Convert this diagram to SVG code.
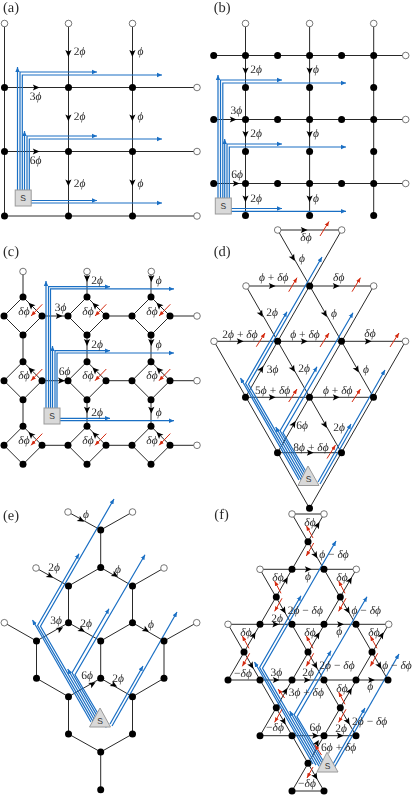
<svg xmlns="http://www.w3.org/2000/svg" width="415" height="796" viewBox="0 0 415 796">
<style>
text{font-family:"Liberation Serif","Times New Roman",serif;font-size:11.5px;fill:#2a2a2a;text-anchor:middle;text-rendering:geometricPrecision}
.p{font-size:14.5px;text-anchor:start}
.i{font-style:italic}
.sl{font-family:"Liberation Sans",Arial,sans-serif;font-size:8.5px;fill:#333}
.k{fill:#000;r:3.5px}
.o{fill:#fff;stroke:#555;stroke-width:.8;r:3.3px}
.e{fill:none;stroke:#111;stroke-width:.9}
.b{fill:none;stroke:#1a6fc4;stroke-width:1.2;marker-end:url(#mb)}
.r{fill:none;stroke:#d42a10;stroke-width:1;marker-end:url(#mr)}
.s{fill:#d9d9d9;stroke:#9a9a9a;stroke-width:1}
#labels{filter:url(#gray)}
</style>
<defs>
<filter id="gray" filterUnits="userSpaceOnUse" x="0" y="0" width="415" height="796" color-interpolation-filters="sRGB"><feOffset dx="0" dy="0"/></filter>
<marker id="mb" markerUnits="userSpaceOnUse" markerWidth="7" markerHeight="6" viewBox="0 -3 7 6" refX="5" refY="0" orient="auto"><path d="M0,-2.2L5,0L0,2.2z" fill="#1a6fc4"/></marker>
<marker id="mr" markerUnits="userSpaceOnUse" markerWidth="7" markerHeight="6" viewBox="0 -3 7 6" refX="5" refY="0" orient="auto"><path d="M0,-2L5,0L0,2z" fill="#d42a10"/></marker>
<path id="ah" d="M3.6,0L-3.2,-3.1L-1.7,0L-3.2,3.1z" fill="#000"/>
<g id="bt">
<path class="b" d="M299,480L240.5,378"/>
<path class="b" d="M302,481.1L245.6,383.5L287,311.7"/>
<path class="b" d="M305.1,482.2L248.5,384.3L322,257"/>
<path class="b" d="M308.1,483.3L275.7,427"/>
<path class="b" d="M311.2,484.4L280.1,430.7L317,366.7"/>
<path class="b" d="M314.2,485.5L283,432.8L353,312.7"/>
<path class="b" d="M318,482L351,424"/>
<path class="b" d="M320,484L385,370"/>
</g>
</defs>
<rect width="415" height="796" fill="#fff"/>
<g id="connectors">
<g id="conn-a">
<path class="e" d="M4.5,23.5V216M68.5,23.5V216M132.5,23.5V216M4.5,87.5H197M4.5,151.5H197M4.5,216H197"/>
<path class="b" d="M17.5,190V67"/>
<path class="b" d="M20,190V72H97"/>
<path class="b" d="M22.3,190V75H162"/>
<path class="b" d="M24.5,190V131"/>
<path class="b" d="M27,190V136H97"/>
<path class="b" d="M29.3,190V139H162"/>
<path class="b" d="M31,200.5H97"/>
<path class="b" d="M31,203H162"/>
<use href="#ah" transform="translate(68.4,53.3) rotate(90)"/><use href="#ah" transform="translate(132.4,53.3) rotate(90)"/>
<use href="#ah" transform="translate(68.4,117.7) rotate(90)"/><use href="#ah" transform="translate(132.4,117.7) rotate(90)"/>
<use href="#ah" transform="translate(68.4,182.7) rotate(90)"/><use href="#ah" transform="translate(132.4,182.7) rotate(90)"/>
<use href="#ah" transform="translate(36,87.5)"/><use href="#ah" transform="translate(36,151.5)"/>
</g>
<g id="conn-b">
<path class="e" d="M245.5,23.5V215.5M309.6,23.5V215.5M373.7,23.5V215.5M213.7,55.5H405.7M213.7,119.5H405.7M213.7,183.5H405.7"/>
<path class="b" d="M218,198V75"/>
<path class="b" d="M220.5,198V80H282"/>
<path class="b" d="M222.8,198V83H346"/>
<path class="b" d="M224.7,198V139"/>
<path class="b" d="M227,198V144H282"/>
<path class="b" d="M229.3,198V147H346"/>
<path class="b" d="M231,208.5H282"/>
<path class="b" d="M231,211.3H346"/>
<use href="#ah" transform="translate(245.5,70.7) rotate(90)"/><use href="#ah" transform="translate(309.6,70.7) rotate(90)"/>
<use href="#ah" transform="translate(245.5,134.3) rotate(90)"/><use href="#ah" transform="translate(309.6,134.3) rotate(90)"/>
<use href="#ah" transform="translate(245.5,198.7) rotate(90)"/><use href="#ah" transform="translate(309.6,198.7) rotate(90)"/>
<use href="#ah" transform="translate(233,119.5)"/><use href="#ah" transform="translate(236,183.5)"/>
</g>
<g id="conn-c">
<path class="e" d="M4,316L23,297L42,316L23,335zM68,316L87,297L106,316L87,335zM132,316L151,297L170,316L151,335zM4,380.7L23,361.7L42,380.7L23,399.7zM68,380.7L87,361.7L106,380.7L87,399.7zM132,380.7L151,361.7L170,380.7L151,399.7zM4,445.3L23,426.3L42,445.3L23,464.3zM68,445.3L87,426.3L106,445.3L87,464.3zM132,445.3L151,426.3L170,445.3L151,464.3z"/>
<path class="e" d="M23,271.5V297M87,271.5V297M151,271.5V297M23,335V361.7M87,335V361.7M151,335V361.7M23,399.7V426.3M87,399.7V426.3M151,399.7V426.3M42,316H68M106,316H132M170,316H197M42,380.7H68M106,380.7H132M170,380.7H197M42,445.3H68M106,445.3H132M170,445.3H197"/>
<path class="b" d="M46,408V281"/>
<path class="b" d="M48.5,408V286.7H110"/>
<path class="b" d="M50.5,408V288.9H174"/>
<path class="b" d="M52.5,408V346"/>
<path class="b" d="M55,408V350.7H110"/>
<path class="b" d="M57,408V353H174"/>
<path class="b" d="M60,418.3H110"/>
<path class="b" d="M60,420.7H174"/>
<use href="#ah" transform="translate(87,278.3) rotate(90)"/><use href="#ah" transform="translate(151.3,278.3) rotate(90)"/>
<use href="#ah" transform="translate(87,342.3) rotate(90)"/><use href="#ah" transform="translate(151.3,342.3) rotate(90)"/>
<use href="#ah" transform="translate(87,410) rotate(90)"/><use href="#ah" transform="translate(151.3,410) rotate(90)"/>
<use href="#ah" transform="translate(59,316)"/><use href="#ah" transform="translate(61.3,380.7)"/>
<use href="#ah" transform="translate(31,305.3) rotate(-135)"/><use href="#ah" transform="translate(95,305.3) rotate(-135)"/><use href="#ah" transform="translate(159,305.3) rotate(-135)"/>
<use href="#ah" transform="translate(31,370) rotate(-135)"/><use href="#ah" transform="translate(95,370) rotate(-135)"/><use href="#ah" transform="translate(159,370) rotate(-135)"/>
<use href="#ah" transform="translate(31,434.6) rotate(-135)"/><use href="#ah" transform="translate(95,434.6) rotate(-135)"/><use href="#ah" transform="translate(159,434.6) rotate(-135)"/>
<path class="r" d="M42.3,304.3L31,316"/><path class="r" d="M106.3,304.3L95,316"/><path class="r" d="M170.3,304.3L159,316"/>
<path class="r" d="M42.3,369L31,380.7"/><path class="r" d="M106.3,369L95,380.7"/><path class="r" d="M170.3,369L159,380.7"/>
<path class="r" d="M42.3,433.6L31,445.3"/><path class="r" d="M106.3,433.6L95,445.3"/><path class="r" d="M170.3,433.6L159,445.3"/>
</g>
<g id="conn-d">
<path class="e" d="M277.7,230H341.7M246,286H373.7M214,341.3H405.5M245.5,397.3H373.5M277.5,452.7H341.5"/>
<path class="e" d="M277.7,230L373.5,397.3M341.7,230L245.5,397.3M405.5,341.3L309.5,508.3M214,341.3L309.5,508.3M246,286L341.5,452.7M373.7,286L277.5,452.7"/>
<use href="#bt"/>
<use href="#ah" transform="translate(304,230)"/><use href="#ah" transform="translate(272,286)"/><use href="#ah" transform="translate(336,286)"/>
<use href="#ah" transform="translate(240,341.3)"/><use href="#ah" transform="translate(304,341.3)"/><use href="#ah" transform="translate(368,341.3)"/>
<use href="#ah" transform="translate(272,397.3)"/><use href="#ah" transform="translate(336,397.3)"/><use href="#ah" transform="translate(310,452.7)"/>
<use href="#ah" transform="translate(293,258) rotate(60)"/><use href="#ah" transform="translate(261,314) rotate(60)"/><use href="#ah" transform="translate(325,314) rotate(60)"/>
<use href="#ah" transform="translate(261.5,369) rotate(-60)"/><use href="#ah" transform="translate(293,369) rotate(60)"/><use href="#ah" transform="translate(357,369.5) rotate(60)"/>
<use href="#ah" transform="translate(293.7,424) rotate(-60)"/><use href="#ah" transform="translate(325,425) rotate(60)"/>
<path class="r" d="M320,236L329,221.5"/><path class="r" d="M288.7,291.7L297,277.7"/><path class="r" d="M352,291.7L360.5,277.7"/>
<path class="r" d="M256.3,346.7L265,333"/><path class="r" d="M320,347L329,333"/><path class="r" d="M390,347L399,333"/>
<path class="r" d="M288.7,402L297,389"/><path class="r" d="M352,402L360.5,389"/><path class="r" d="M327,458.5L335.5,445"/>
</g>
<g id="conn-e">
<path class="e" d="M68,512L100.7,530L132.5,512M100.7,530V567.5M36,568L68.5,586L100.7,567.5L132.5,586L164,568M68.5,586V622.7M132.5,586V622.7M4.3,622.7L36.5,641L68.5,622.7L100.7,641L132.5,622.7L164,641L196.7,622.7M36.5,641V678.3M100.7,641V678.3M164,641V678.3M36.5,678.3L68.5,696.7L100.7,678.3L132.5,696.7L164,678.3M68.5,696.7V734M132.5,696.7V734M68.5,734L100.7,752L132.5,734M100.7,752V789.7"/>
<use href="#bt" transform="translate(-208,242)"/>
<use href="#ah" transform="translate(81,520) rotate(30)"/><use href="#ah" transform="translate(50,576) rotate(30)"/><use href="#ah" transform="translate(115,575) rotate(30)"/>
<use href="#ah" transform="translate(60,629) rotate(-30)"/><use href="#ah" transform="translate(81.7,630) rotate(30)"/><use href="#ah" transform="translate(146,630) rotate(30)"/>
<use href="#ah" transform="translate(92.5,684) rotate(-30)"/><use href="#ah" transform="translate(114,685) rotate(30)"/>
</g>
<g id="conn-f">
<path class="e" d="M292,514H324M260,569.3H356.3M228,624.3H388.7M228,680H388M260,735.7H356M292,791H324"/>
<path class="e" d="M292,514L388,680M324,514L228,680M260,569.3L356,735.7M356.3,569.3L260,735.7M228,624.3L324,791M388.7,624.3L292,791"/>
<use href="#bt" transform="translate(14,284)"/>
<use href="#ah" transform="translate(308,569.3)"/><use href="#ah" transform="translate(275.5,624.3)"/><use href="#ah" transform="translate(340.3,624.3)"/>
<use href="#ah" transform="translate(276,680)"/><use href="#ah" transform="translate(307,680)"/><use href="#ah" transform="translate(371.3,680)"/>
<use href="#ah" transform="translate(315.3,735.7)"/><use href="#ah" transform="translate(340,735.7)"/>
<use href="#ah" transform="translate(317.7,525) rotate(-60)"/><use href="#ah" transform="translate(286,580.3) rotate(-60)"/><use href="#ah" transform="translate(350,580.3) rotate(-60)"/>
<use href="#ah" transform="translate(253.7,635.3) rotate(-60)"/><use href="#ah" transform="translate(317.7,635.3) rotate(-60)"/><use href="#ah" transform="translate(381.7,635.3) rotate(-60)"/>
<use href="#ah" transform="translate(285.5,691) rotate(-60)"/><use href="#ah" transform="translate(350,691) rotate(-60)"/><use href="#ah" transform="translate(317,743) rotate(-60)"/>
<use href="#ah" transform="translate(315.5,555.2) rotate(60)"/><use href="#ah" transform="translate(283.8,610.5) rotate(60)"/><use href="#ah" transform="translate(347.8,610.5) rotate(60)"/>
<use href="#ah" transform="translate(251.5,665.6) rotate(60)"/><use href="#ah" transform="translate(315.5,665.6) rotate(60)"/><use href="#ah" transform="translate(379.5,665.6) rotate(60)"/>
<use href="#ah" transform="translate(283.8,721.5) rotate(60)"/><use href="#ah" transform="translate(347.8,721.5) rotate(60)"/><use href="#ah" transform="translate(315.5,776.5) rotate(60)"/>
<path class="r" d="M313,538L306.3,525.7"/><path class="r" d="M281,593.3L274.6,581"/><path class="r" d="M345,593.3L338.6,581"/>
<path class="r" d="M249,648.3L242.3,636"/><path class="r" d="M313,648.3L306.3,636"/><path class="r" d="M377,648.3L370.3,636"/>
<path class="r" d="M345,704.3L338.6,692"/><path class="r" d="M284.6,698L278,689"/><path class="r" d="M321.5,755L315,745"/>
<path class="r" d="M313.7,543L306.3,556"/><path class="r" d="M282,598.3L274.6,611.3"/><path class="r" d="M346,598.3L338.6,611.3"/>
<path class="r" d="M249.7,653.3L242.3,666.3"/><path class="r" d="M313.7,653.3L306.3,666.3"/><path class="r" d="M377.7,653.3L370.3,666.3"/>
<path class="r" d="M282,709.3L274.6,722.3"/><path class="r" d="M346,709.3L338.6,722.3"/><path class="r" d="M313,767L307,778"/>
</g>
</g>
<g id="panel-a-nodes">
<g id="a-t1"><circle class="o" cx="4.5" cy="23.5"/></g><g id="a-t2"><circle class="o" cx="68.5" cy="23.5"/></g><g id="a-t3"><circle class="o" cx="132.5" cy="23.5"/></g>
<g id="a-11"><circle class="k" cx="4.5" cy="87.5"/></g><g id="a-12"><circle class="k" cx="68.5" cy="87.5"/></g><g id="a-13"><circle class="k" cx="132.5" cy="87.5"/></g><g id="a-14"><circle class="o" cx="197" cy="87.5"/></g>
<g id="a-21"><circle class="k" cx="4.5" cy="151.5"/></g><g id="a-22"><circle class="k" cx="68.5" cy="151.5"/></g><g id="a-23"><circle class="k" cx="132.5" cy="151.5"/></g><g id="a-24"><circle class="o" cx="197" cy="151.5"/></g>
<g id="a-31"><circle class="k" cx="4.5" cy="216"/></g><g id="a-32"><circle class="k" cx="68.5" cy="216"/></g><g id="a-33"><circle class="k" cx="132.5" cy="216"/></g><g id="a-34"><circle class="o" cx="197" cy="216"/></g>
<g id="a-S"><rect class="s" x="15.2" y="190" width="16" height="16"/><text class="sl" x="23.2" y="201">S</text></g>
</g>
<g id="panel-b-nodes">
<g id="b-t1"><circle class="o" cx="245.5" cy="23.5"/></g><g id="b-t2"><circle class="o" cx="309.6" cy="23.5"/></g><g id="b-t3"><circle class="o" cx="373.7" cy="23.5"/></g>
<g id="b-11"><circle class="k" cx="213.7" cy="55.5"/></g><g id="b-12"><circle class="k" cx="245.5" cy="55.5"/></g><g id="b-13"><circle class="k" cx="277.6" cy="55.5"/></g><g id="b-14"><circle class="k" cx="309.6" cy="55.5"/></g><g id="b-15"><circle class="k" cx="341.6" cy="55.5"/></g><g id="b-16"><circle class="k" cx="373.7" cy="55.5"/></g><g id="b-17"><circle class="o" cx="405.7" cy="55.5"/></g>
<g id="b-21"><circle class="k" cx="245.5" cy="87.5"/></g><g id="b-22"><circle class="k" cx="309.6" cy="87.5"/></g><g id="b-23"><circle class="k" cx="373.7" cy="87.5"/></g>
<g id="b-31"><circle class="k" cx="213.7" cy="119.5"/></g><g id="b-32"><circle class="k" cx="245.5" cy="119.5"/></g><g id="b-33"><circle class="k" cx="277.6" cy="119.5"/></g><g id="b-34"><circle class="k" cx="309.6" cy="119.5"/></g><g id="b-35"><circle class="k" cx="341.6" cy="119.5"/></g><g id="b-36"><circle class="k" cx="373.7" cy="119.5"/></g><g id="b-37"><circle class="o" cx="405.7" cy="119.5"/></g>
<g id="b-41"><circle class="k" cx="245.5" cy="151.5"/></g><g id="b-42"><circle class="k" cx="309.6" cy="151.5"/></g><g id="b-43"><circle class="k" cx="373.7" cy="151.5"/></g>
<g id="b-51"><circle class="k" cx="213.7" cy="183.5"/></g><g id="b-52"><circle class="k" cx="245.5" cy="183.5"/></g><g id="b-53"><circle class="k" cx="277.6" cy="183.5"/></g><g id="b-54"><circle class="k" cx="309.6" cy="183.5"/></g><g id="b-55"><circle class="k" cx="341.6" cy="183.5"/></g><g id="b-56"><circle class="k" cx="373.7" cy="183.5"/></g><g id="b-57"><circle class="o" cx="405.7" cy="183.5"/></g>
<g id="b-61"><circle class="k" cx="245.5" cy="215.5"/></g><g id="b-62"><circle class="k" cx="309.6" cy="215.5"/></g><g id="b-63"><circle class="k" cx="373.7" cy="215.5"/></g>
<g id="b-S"><rect class="s" x="215.3" y="198" width="16" height="16"/><text class="sl" x="223.3" y="209">S</text></g>
</g>
<g id="panel-c-nodes">
<g id="c-t1"><circle class="o" cx="23" cy="271.5"/></g><g id="c-t2"><circle class="o" cx="87" cy="271.5"/></g><g id="c-t3"><circle class="o" cx="151.3" cy="271.5"/></g>
<g id="c-r1"><circle class="o" cx="197" cy="316"/></g><g id="c-r2"><circle class="o" cx="197" cy="380.7"/></g><g id="c-r3"><circle class="o" cx="197" cy="445.3"/></g>
<g id="c-11"><circle class="k" cx="4" cy="316"/><circle class="k" cx="23" cy="297"/><circle class="k" cx="42" cy="316"/><circle class="k" cx="23" cy="335"/></g>
<g id="c-12"><circle class="k" cx="68" cy="316"/><circle class="k" cx="87" cy="297"/><circle class="k" cx="106" cy="316"/><circle class="k" cx="87" cy="335"/></g>
<g id="c-13"><circle class="k" cx="132" cy="316"/><circle class="k" cx="151" cy="297"/><circle class="k" cx="170" cy="316"/><circle class="k" cx="151" cy="335"/></g>
<g id="c-21"><circle class="k" cx="4" cy="380.7"/><circle class="k" cx="23" cy="361.7"/><circle class="k" cx="42" cy="380.7"/><circle class="k" cx="23" cy="399.7"/></g>
<g id="c-22"><circle class="k" cx="68" cy="380.7"/><circle class="k" cx="87" cy="361.7"/><circle class="k" cx="106" cy="380.7"/><circle class="k" cx="87" cy="399.7"/></g>
<g id="c-23"><circle class="k" cx="132" cy="380.7"/><circle class="k" cx="151" cy="361.7"/><circle class="k" cx="170" cy="380.7"/><circle class="k" cx="151" cy="399.7"/></g>
<g id="c-31"><circle class="k" cx="4" cy="445.3"/><circle class="k" cx="23" cy="426.3"/><circle class="k" cx="42" cy="445.3"/><circle class="k" cx="23" cy="464.3"/></g>
<g id="c-32"><circle class="k" cx="68" cy="445.3"/><circle class="k" cx="87" cy="426.3"/><circle class="k" cx="106" cy="445.3"/><circle class="k" cx="87" cy="464.3"/></g>
<g id="c-33"><circle class="k" cx="132" cy="445.3"/><circle class="k" cx="151" cy="426.3"/><circle class="k" cx="170" cy="445.3"/><circle class="k" cx="151" cy="464.3"/></g>
<g id="c-S"><rect class="s" x="44" y="408" width="16" height="16"/><text class="sl" x="52" y="419">S</text></g>
</g>
<g id="panel-d-nodes">
<g id="d-1"><circle class="o" cx="277.7" cy="230"/></g><g id="d-2"><circle class="o" cx="341.7" cy="230"/></g>
<g id="d-3"><circle class="o" cx="246" cy="286"/></g><g id="d-4"><circle class="k" cx="309.7" cy="286"/></g><g id="d-5"><circle class="o" cx="373.7" cy="286"/></g>
<g id="d-6"><circle class="o" cx="214" cy="341.3"/></g><g id="d-7"><circle class="k" cx="277.7" cy="341.3"/></g><g id="d-8"><circle class="k" cx="341.5" cy="341.3"/></g><g id="d-9"><circle class="o" cx="405.5" cy="341.3"/></g>
<g id="d-10"><circle class="k" cx="245.5" cy="397.3"/></g><g id="d-11"><circle class="k" cx="309.5" cy="397.3"/></g><g id="d-12"><circle class="k" cx="373.5" cy="397.3"/></g>
<g id="d-13"><circle class="k" cx="277.5" cy="452.7"/></g><g id="d-14"><circle class="k" cx="341.5" cy="452.7"/></g>
<g id="d-15"><circle class="k" cx="309.5" cy="508.3"/></g>
<g id="d-S"><path class="s" d="M308,466L298,485.5H319z"/><text class="sl" x="308.5" y="482">S</text></g>
</g>
<g id="panel-e-nodes">
<g id="e-1"><circle class="o" cx="68" cy="512"/></g><g id="e-2"><circle class="o" cx="132.5" cy="512"/></g><g id="e-3"><circle class="k" cx="100.7" cy="530"/></g><g id="e-4"><circle class="k" cx="100.7" cy="567.5"/></g>
<g id="e-5"><circle class="o" cx="36" cy="568"/></g><g id="e-6"><circle class="o" cx="164" cy="568"/></g><g id="e-7"><circle class="k" cx="68.5" cy="586"/></g><g id="e-8"><circle class="k" cx="132.5" cy="586"/></g>
<g id="e-9"><circle class="k" cx="68.5" cy="622.7"/></g><g id="e-10"><circle class="k" cx="132.5" cy="622.7"/></g><g id="e-11"><circle class="o" cx="4.3" cy="622.7"/></g><g id="e-12"><circle class="o" cx="196.7" cy="622.7"/></g>
<g id="e-13"><circle class="k" cx="36.5" cy="641"/></g><g id="e-14"><circle class="k" cx="100.7" cy="641"/></g><g id="e-15"><circle class="k" cx="164" cy="641"/></g>
<g id="e-16"><circle class="k" cx="36.5" cy="678.3"/></g><g id="e-17"><circle class="k" cx="100.7" cy="678.3"/></g><g id="e-18"><circle class="k" cx="164" cy="678.3"/></g>
<g id="e-19"><circle class="k" cx="68.5" cy="696.7"/></g><g id="e-20"><circle class="k" cx="132.5" cy="696.7"/></g><g id="e-21"><circle class="k" cx="68.5" cy="734"/></g><g id="e-22"><circle class="k" cx="132.5" cy="734"/></g>
<g id="e-23"><circle class="k" cx="100.7" cy="752"/></g><g id="e-24"><circle class="k" cx="100.7" cy="789.7"/></g>
<g id="e-S"><path class="s" d="M100,708L89.5,727H110.5z"/><text class="sl" x="100" y="723.5">S</text></g>
</g>
<g id="panel-f-nodes">
<g id="f-1"><circle class="o" cx="292" cy="514"/></g><g id="f-2"><circle class="o" cx="324" cy="514"/></g><g id="f-3"><circle class="k" cx="308" cy="541.7"/></g>
<g id="f-4"><circle class="o" cx="260" cy="569.3"/></g><g id="f-5"><circle class="k" cx="292" cy="569.3"/></g><g id="f-6"><circle class="k" cx="324" cy="569.3"/></g><g id="f-7"><circle class="o" cx="356.3" cy="569.3"/></g>
<g id="f-8"><circle class="k" cx="276.3" cy="597"/></g><g id="f-9"><circle class="k" cx="340.3" cy="597"/></g>
<g id="f-10"><circle class="o" cx="228" cy="624.3"/></g><g id="f-11"><circle class="k" cx="260" cy="624.3"/></g><g id="f-12"><circle class="k" cx="292" cy="624.3"/></g><g id="f-13"><circle class="k" cx="324" cy="624.3"/></g><g id="f-14"><circle class="k" cx="356" cy="624.3"/></g><g id="f-15"><circle class="o" cx="388.7" cy="624.3"/></g>
<g id="f-16"><circle class="k" cx="244" cy="652"/></g><g id="f-17"><circle class="k" cx="308" cy="652"/></g><g id="f-18"><circle class="k" cx="372" cy="652"/></g>
<g id="f-19"><circle class="k" cx="228" cy="680"/></g><g id="f-20"><circle class="k" cx="260" cy="680"/></g><g id="f-21"><circle class="k" cx="292" cy="680"/></g><g id="f-22"><circle class="k" cx="324" cy="680"/></g><g id="f-23"><circle class="k" cx="356" cy="680"/></g><g id="f-24"><circle class="k" cx="388" cy="680"/></g>
<g id="f-25"><circle class="k" cx="276.3" cy="707.7"/></g><g id="f-26"><circle class="k" cx="340.3" cy="707.7"/></g>
<g id="f-27"><circle class="k" cx="260" cy="735.7"/></g><g id="f-28"><circle class="k" cx="292" cy="735.7"/></g><g id="f-29"><circle class="k" cx="324" cy="735.7"/></g><g id="f-30"><circle class="k" cx="356" cy="735.7"/></g>
<g id="f-31"><circle class="k" cx="308" cy="763.3"/></g><g id="f-32"><circle class="k" cx="292" cy="791"/></g><g id="f-33"><circle class="k" cx="324" cy="791"/></g>
<g id="f-S"><path class="s" d="M327,752.3L317,772H338z"/><text class="sl" x="327.5" y="768.5">S</text></g>
</g>
<g id="labels">
<text class="p" x="3" y="12">(a)</text><text class="p" x="213.7" y="12">(b)</text><text class="p" x="3" y="256">(c)</text><text class="p" x="213.7" y="256">(d)</text><text class="p" x="3" y="519.5">(e)</text><text class="p" x="214.3" y="519">(f)</text>
<text x="79.5" y="55">2<tspan class="i">ϕ</tspan></text><text x="140.5" y="55" class="i">ϕ</text><text x="79.5" y="120">2<tspan class="i">ϕ</tspan></text><text x="140.5" y="120" class="i">ϕ</text><text x="79.5" y="186.5">2<tspan class="i">ϕ</tspan></text><text x="140.5" y="186.5" class="i">ϕ</text>
<text x="35.7" y="100">3<tspan class="i">ϕ</tspan></text><text x="35.7" y="164">6<tspan class="i">ϕ</tspan></text>
<text x="256" y="72.5">2<tspan class="i">ϕ</tspan></text><text x="316" y="72.5" class="i">ϕ</text><text x="256" y="137">2<tspan class="i">ϕ</tspan></text><text x="316" y="137" class="i">ϕ</text><text x="256" y="201.5">2<tspan class="i">ϕ</tspan></text><text x="316" y="201.5" class="i">ϕ</text>
<text x="236.3" y="114">3<tspan class="i">ϕ</tspan></text><text x="237" y="178">6<tspan class="i">ϕ</tspan></text>
<text x="97" y="284">2<tspan class="i">ϕ</tspan></text><text x="158.7" y="284" class="i">ϕ</text><text x="97" y="348">2<tspan class="i">ϕ</tspan></text><text x="158.7" y="348" class="i">ϕ</text><text x="97" y="416">2<tspan class="i">ϕ</tspan></text><text x="158.7" y="416" class="i">ϕ</text>
<text x="60.7" y="311">3<tspan class="i">ϕ</tspan></text><text x="64.7" y="375">6<tspan class="i">ϕ</tspan></text>
<text class="i" x="24" y="314.5">δϕ</text><text class="i" x="88" y="314.5">δϕ</text><text class="i" x="152" y="314.5">δϕ</text>
<text class="i" x="24" y="379">δϕ</text><text class="i" x="88" y="379">δϕ</text><text class="i" x="152" y="379">δϕ</text>
<text class="i" x="24" y="443.8">δϕ</text><text class="i" x="88" y="443.8">δϕ</text><text class="i" x="152" y="443.8">δϕ</text>
<text class="i" x="306" y="241">δϕ</text><text class="i" x="302" y="261.5">ϕ</text>
<text x="273.7" y="281"><tspan class="i">ϕ</tspan> + <tspan class="i">δϕ</tspan></text><text class="i" x="338.7" y="281">δϕ</text>
<text x="272" y="316">2<tspan class="i">ϕ</tspan></text><text class="i" x="334" y="317">ϕ</text>
<text x="240" y="337.5">2<tspan class="i">ϕ</tspan> + <tspan class="i">δϕ</tspan></text><text x="305" y="337.5"><tspan class="i">ϕ</tspan> + <tspan class="i">δϕ</tspan></text><text class="i" x="370" y="336.5">δϕ</text>
<text x="272.5" y="372.5">3<tspan class="i">ϕ</tspan></text><text x="304" y="371.5">2<tspan class="i">ϕ</tspan></text><text class="i" x="366" y="372.5">ϕ</text>
<text x="272.7" y="393.5">5<tspan class="i">ϕ</tspan> + <tspan class="i">δϕ</tspan></text><text x="337.7" y="393.5"><tspan class="i">ϕ</tspan> + <tspan class="i">δϕ</tspan></text>
<text x="302" y="428.5">6<tspan class="i">ϕ</tspan></text><text x="339" y="430.5">2<tspan class="i">ϕ</tspan></text>
<text x="311" y="450.5">8<tspan class="i">ϕ</tspan> + <tspan class="i">δϕ</tspan></text>
<text class="i" x="86" y="517.5">ϕ</text><text x="54" y="570.5">2<tspan class="i">ϕ</tspan></text><text class="i" x="118" y="572.5">ϕ</text>
<text x="56" y="623.5">3<tspan class="i">ϕ</tspan></text><text x="86" y="626.5">2<tspan class="i">ϕ</tspan></text><text class="i" x="151" y="627.5">ϕ</text>
<text x="87" y="678.5">6<tspan class="i">ϕ</tspan></text><text x="118" y="681.5">2<tspan class="i">ϕ</tspan></text>
<text class="i" x="310" y="526">δϕ</text><text class="i" x="278" y="581">δϕ</text><text class="i" x="342" y="581">δϕ</text>
<text class="i" x="246" y="636">δϕ</text><text class="i" x="310" y="636">δϕ</text><text class="i" x="374" y="636">δϕ</text><text class="i" x="342" y="692">δϕ</text>
<text x="243" y="677">−<tspan class="i">δϕ</tspan></text><text x="275" y="731">−<tspan class="i">δϕ</tspan></text><text x="307" y="787">−<tspan class="i">δϕ</tspan></text>
<text x="334" y="557.5"><tspan class="i">ϕ</tspan> − <tspan class="i">δϕ</tspan></text><text x="305.3" y="613.5">2<tspan class="i">ϕ</tspan> − <tspan class="i">δϕ</tspan></text><text x="366.3" y="613.5"><tspan class="i">ϕ</tspan> − <tspan class="i">δϕ</tspan></text>
<text x="337" y="668.5">2<tspan class="i">ϕ</tspan> − <tspan class="i">δϕ</tspan></text><text x="397" y="668.5"><tspan class="i">ϕ</tspan> − <tspan class="i">δϕ</tspan></text><text x="369.7" y="724.5">2<tspan class="i">ϕ</tspan> − <tspan class="i">δϕ</tspan></text>
<text x="306.3" y="695.8">3<tspan class="i">ϕ</tspan> + <tspan class="i">δϕ</tspan></text><text x="338.7" y="750.8">6<tspan class="i">ϕ</tspan> + <tspan class="i">δϕ</tspan></text>
<text x="277" y="622">2<tspan class="i">ϕ</tspan></text><text class="i" x="308" y="579.5">ϕ</text><text class="i" x="339.3" y="634.5">ϕ</text>
<text x="276.3" y="676">3<tspan class="i">ϕ</tspan></text><text x="308" y="676">2<tspan class="i">ϕ</tspan></text><text class="i" x="370.3" y="690">ϕ</text>
<text x="315.3" y="731">6<tspan class="i">ϕ</tspan></text><text x="341" y="731.5">2<tspan class="i">ϕ</tspan></text>
</g>
</svg>
